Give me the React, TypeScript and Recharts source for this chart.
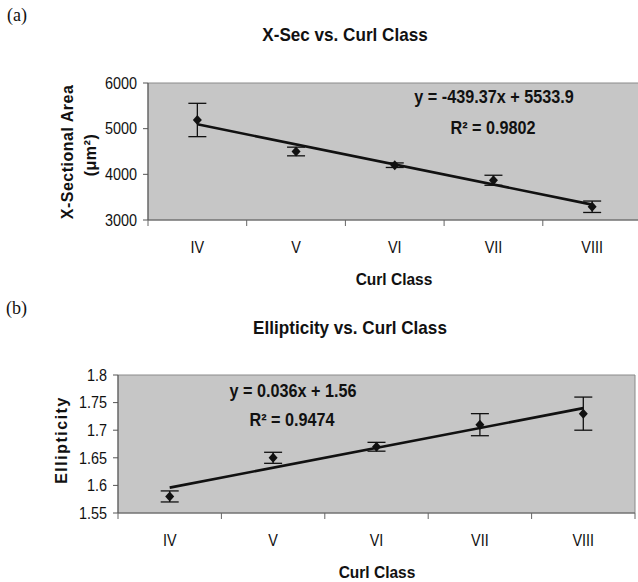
import React from "react";
import {
  ComposedChart,
  Line,
  XAxis,
  YAxis,
  ErrorBar,
  ReferenceArea,
} from "recharts";

// curl classes along the x axis
const classes = ["IV", "V", "VI", "VII", "VIII"];

// (a) cross-sectional area
const areaMean = [5190, 4500, 4200, 3870, 3290];
const areaErr = [365, 95, 50, 110, 125];
const areaTrend = [5095, null, null, null, 3337];
const areaTicks = [3000, 4000, 5000, 6000];

// (b) ellipticity
const ellMean = [1.58, 1.65, 1.67, 1.71, 1.73];
const ellErr = [0.01, 0.01, 0.008, 0.02, 0.03];
const ellTrend = [1.596, null, null, null, 1.74];
const ellTicks = [1.55, 1.6, 1.65, 1.7, 1.75, 1.8];

const xTicks = [0.5, 1, 1.5, 2, 2.5, 3, 3.5, 4, 4.5, 5, 5.5];

const FONT = '"Liberation Sans", Arial, sans-serif';
const SERIF = '"Liberation Serif", "Times New Roman", serif';

const areaData = classes.map((c, i) => ({
  x: i + 1,
  cls: c,
  mean: areaMean[i],
  err: areaErr[i],
  trend: areaTrend[i],
}));

const ellData = classes.map((c, i) => ({
  x: i + 1,
  cls: c,
  mean: ellMean[i],
  err: ellErr[i],
  trend: ellTrend[i],
}));

// the scan uses a narrow face, so squeeze arial horizontally
function NarrowText({ x, y, size, sx = 0.9, anchor = "middle", bold = false, rotate = 0, spacing = 0, children }: any) {
  return (
    <text
      transform={`translate(${x},${y}) rotate(${rotate}) scale(${sx},1)`}
      textAnchor={anchor}
      dominantBaseline="central"
      fontSize={size}
      fontFamily={FONT}
      fontWeight={bold ? "bold" : "normal"}
      letterSpacing={spacing}
      fill="#111"
    >
      {children}
    </text>
  );
}

// excel style: tick marks between categories, labels centred in them
function CatTick(props: any) {
  const { x, y, payload } = props;
  const v = payload.value;
  if (Number.isInteger(v)) {
    return (
      <NarrowText x={x} y={y + 27} size={16}>
        {classes[v - 1]}
      </NarrowText>
    );
  }
  return <line x1={x} x2={x} y1={y} y2={y + 6} stroke="#666" strokeWidth={1} />;
}

function ValTick(props: any) {
  const { x, y, payload } = props;
  return (
    <NarrowText x={x} y={y} size={16} anchor="end">
      {String(payload.value)}
    </NarrowText>
  );
}

function diamond(props: any) {
  const { cx, cy, index } = props;
  if (cx == null || cy == null) return <g key={`d-${index}`} />;
  return (
    <path
      key={`d-${index}`}
      d={`M${cx},${cy - 5} L${cx + 4.5},${cy} L${cx},${cy + 5} L${cx - 4.5},${cy} Z`}
      fill="#111"
    />
  );
}

export default function App() {
  return (
    <div
      style={{
        position: "absolute",
        left: 0,
        top: 0,
        width: 638,
        height: 582,
        overflow: "hidden",
        background: "#fff",
      }}
    >
      <div style={{ position: "absolute", left: 0, top: 0 }}>
        <ComposedChart width={660} height={290} margin={{ top: 83, right: 18.5, bottom: 0, left: 0 }} data={areaData}>
          <ReferenceArea x1={0.5} x2={5.5} y1={3000} y2={6000} fill="#c6c6c6" fillOpacity={1} stroke="#8a8a8a" strokeWidth={1} />
          <XAxis
            type="number"
            dataKey="x"
            domain={[0.5, 5.5]}
            ticks={xTicks}
            interval={0}
            tickLine={false}
            tickSize={0}
            tickMargin={0}
            tick={<CatTick />}
            axisLine={{ stroke: "#666" }}
            height={70}
          />
          <YAxis
            type="number"
            domain={[3000, 6000]}
            ticks={areaTicks}
            interval={0}
            width={148}
            tickSize={5}
            tickMargin={6}
            axisLine={{ stroke: "#555" }}
            tickLine={{ stroke: "#555" }}
            tick={<ValTick />}
          />
          <Line dataKey="trend" connectNulls stroke="#111" strokeWidth={2.6} dot={false} activeDot={false} isAnimationActive={false} />
          <Line dataKey="mean" stroke="none" dot={diamond} activeDot={false} isAnimationActive={false}>
            <ErrorBar dataKey="err" width={9} strokeWidth={1.3} stroke="#111" direction="y" />
          </Line>
        </ComposedChart>
      </div>

      <div style={{ position: "absolute", left: 0, top: 290 }}>
        <ComposedChart width={638} height={292} margin={{ top: 85, right: 3, bottom: 0, left: 0 }} data={ellData}>
          <ReferenceArea x1={0.5} x2={5.5} y1={1.55} y2={1.8} fill="#c6c6c6" fillOpacity={1} stroke="#8a8a8a" strokeWidth={1} />
          <XAxis
            type="number"
            dataKey="x"
            domain={[0.5, 5.5]}
            ticks={xTicks}
            interval={0}
            tickLine={false}
            tickSize={0}
            tickMargin={0}
            tick={<CatTick />}
            axisLine={{ stroke: "#666" }}
            height={69}
          />
          <YAxis
            type="number"
            domain={[1.55, 1.8]}
            ticks={ellTicks}
            interval={0}
            width={118}
            tickSize={5}
            tickMargin={6}
            axisLine={{ stroke: "#555" }}
            tickLine={{ stroke: "#555" }}
            tick={<ValTick />}
          />
          <Line dataKey="trend" connectNulls stroke="#111" strokeWidth={2.6} dot={false} activeDot={false} isAnimationActive={false} />
          <Line dataKey="mean" stroke="none" dot={diamond} activeDot={false} isAnimationActive={false}>
            <ErrorBar dataKey="err" width={9} strokeWidth={1.3} stroke="#111" direction="y" />
          </Line>
        </ComposedChart>
      </div>

      {/* titles, axis labels and trend equations */}
      <svg
        width={638}
        height={582}
        style={{ position: "absolute", left: 0, top: 0, pointerEvents: "none" }}
      >
        <text x={7} y={21} fontFamily={SERIF} fontSize={18} fill="#111">(a)</text>
        <NarrowText x={345} y={35} size={18} sx={0.95} bold>X-Sec vs. Curl Class</NarrowText>
        <NarrowText x={67} y={152} size={16} sx={1} rotate={-90} spacing={0.5} bold>X-Sectional Area</NarrowText>
        <NarrowText x={90} y={155} size={16} sx={1} rotate={-90} spacing={0.5} bold>(μm²)</NarrowText>
        <NarrowText x={494} y={97} size={18} bold>y = -439.37x + 5533.9</NarrowText>
        <NarrowText x={493} y={128} size={18} bold>R² = 0.9802</NarrowText>
        <NarrowText x={394} y={279} size={16} sx={0.97} bold>Curl Class</NarrowText>

        <text x={6} y={314} fontFamily={SERIF} fontSize={18} fill="#111">(b)</text>
        <NarrowText x={350} y={328} size={18} sx={0.95} bold>Ellipticity vs. Curl Class</NarrowText>
        <NarrowText x={61} y={440} size={16} sx={1} rotate={-90} spacing={1.5} bold>Ellipticity</NarrowText>
        <NarrowText x={293} y={391} size={18} bold>y = 0.036x + 1.56</NarrowText>
        <NarrowText x={292} y={420} size={18} bold>R² = 0.9474</NarrowText>
        <NarrowText x={377} y={572} size={16} sx={0.97} bold>Curl Class</NarrowText>
      </svg>
    </div>
  );
}
